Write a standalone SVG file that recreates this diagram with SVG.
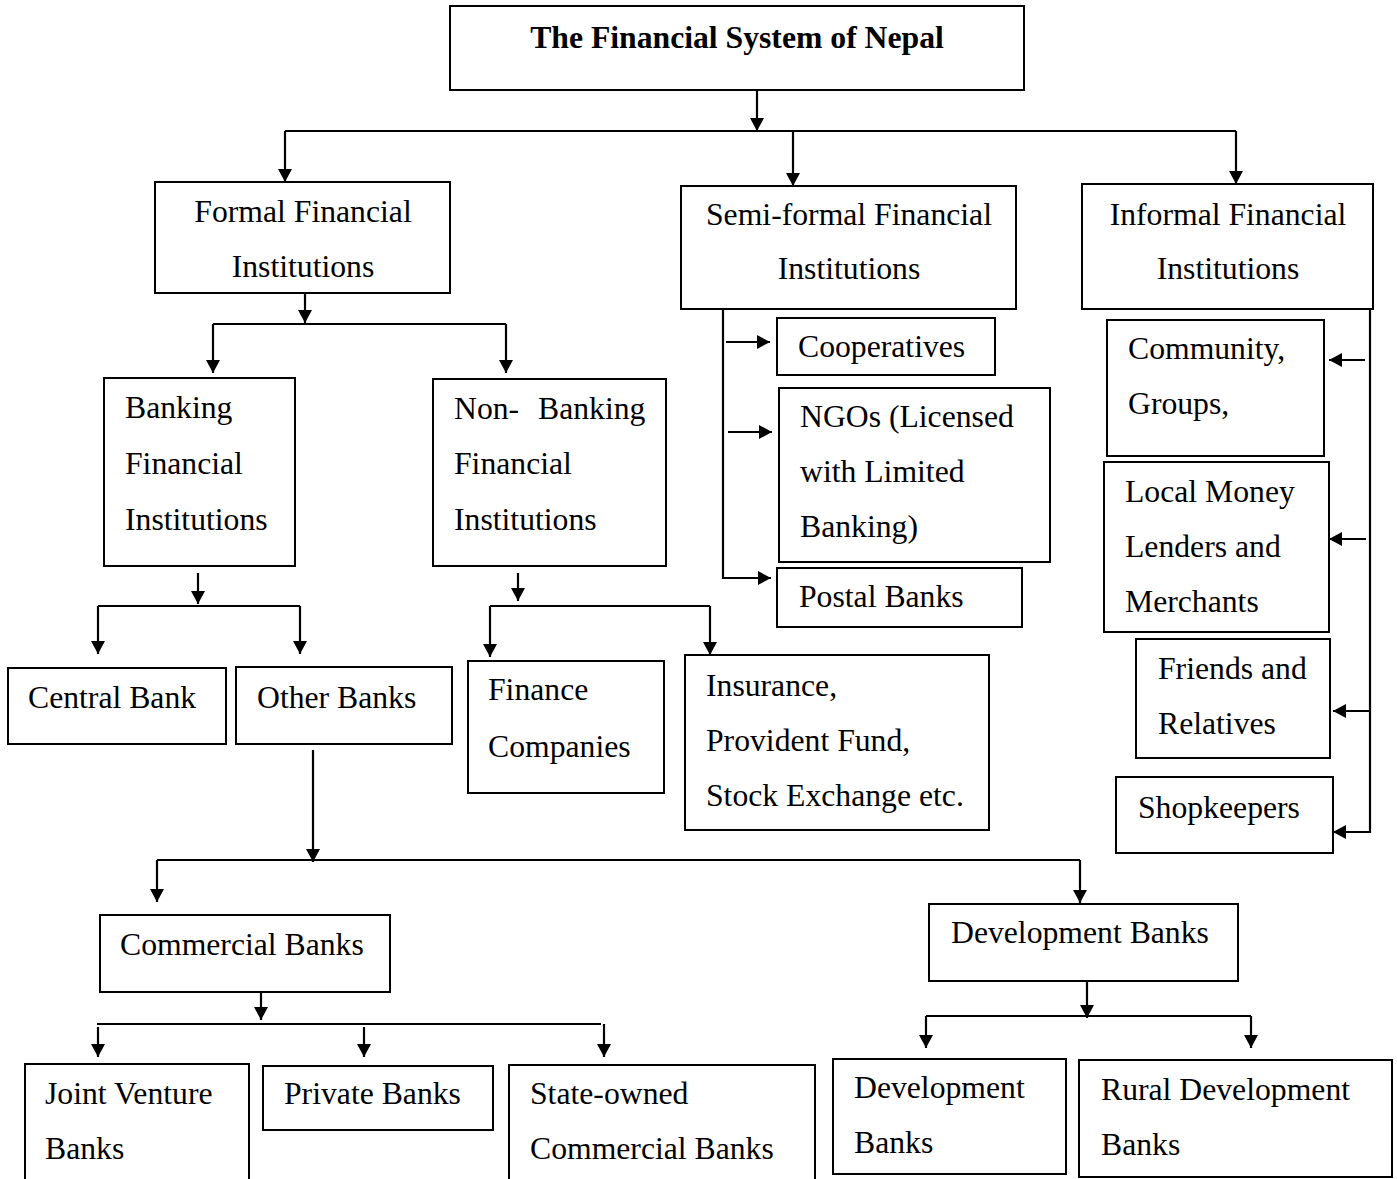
<svg xmlns="http://www.w3.org/2000/svg" width="1397" height="1179" viewBox="0 0 1397 1179">
<style>
.box{fill:#fff;stroke:#000;stroke-width:2}
.t{font-family:"Liberation Serif","Times New Roman",serif;font-size:31.7px;fill:#000}
.c{text-anchor:middle}
.b{font-weight:bold}
.ln{fill:none;stroke:#000;stroke-width:2.2}
.ar{fill:none;stroke:#000;stroke-width:2.2;marker-end:url(#ah)}
</style>
<defs>
<marker id="ah" viewBox="0 0 13 14" refX="13" refY="7" markerWidth="13" markerHeight="14" markerUnits="userSpaceOnUse" orient="auto">
<path d="M0,0 L13,7 L0,14 z" fill="#000"/>
</marker>
</defs>
<rect width="1397" height="1179" fill="#fff"/>
<g id="connectors">
<path class="ar" d="M757,90 V131"/>
<path class="ln" d="M285,131 H1236"/>
<path class="ar" d="M285,131 V182"/>
<path class="ar" d="M793,131 V186"/>
<path class="ar" d="M1236,131 V184"/>
<path class="ar" d="M305,293 V323"/>
<path class="ln" d="M213,324 H506"/>
<path class="ar" d="M213,324 V373"/>
<path class="ar" d="M506,324 V373"/>
<path class="ar" d="M198,573 V604"/>
<path class="ln" d="M98,606 H300"/>
<path class="ar" d="M98,606 V654"/>
<path class="ar" d="M300,606 V654"/>
<path class="ar" d="M518,573 V601"/>
<path class="ln" d="M490,606 H710"/>
<path class="ar" d="M490,606 V657"/>
<path class="ar" d="M710,606 V655"/>
<path class="ar" d="M313,750 V862"/>
<path class="ln" d="M157,860 H1080"/>
<path class="ar" d="M157,860 V902"/>
<path class="ar" d="M1080,860 V903"/>
<path class="ar" d="M261,992 V1020"/>
<path class="ln" d="M97,1024 H601"/>
<path class="ar" d="M98,1027 V1057"/>
<path class="ar" d="M364,1027 V1057"/>
<path class="ar" d="M604,1024 V1057"/>
<path class="ar" d="M1087,981 V1018"/>
<path class="ln" d="M926,1016 H1251"/>
<path class="ar" d="M926,1016 V1048"/>
<path class="ar" d="M1251,1016 V1048"/>
<path class="ar" d="M723,309 V578 H771"/>
<path class="ar" d="M726,342 H770"/>
<path class="ar" d="M728,432 H772"/>
<path class="ar" d="M1370,309 V832 H1333"/>
<path class="ar" d="M1365,360 H1329"/>
<path class="ar" d="M1366,539 H1329"/>
<path class="ar" d="M1370,711 H1333"/>
</g>
<g id="title"><rect class="box" x="450" y="6" width="574" height="84"/><text class="t c b" x="737" y="48">The Financial System of Nepal</text></g>
<g id="formal"><rect class="box" x="155" y="182" width="295" height="111"/><text class="t c" x="303" y="222">Formal Financial</text><text class="t c" x="303" y="277">Institutions</text></g>
<g id="semiformal"><rect class="box" x="681" y="186" width="335" height="123"/><text class="t c" x="849" y="225">Semi-formal Financial</text><text class="t c" x="849" y="279">Institutions</text></g>
<g id="informal"><rect class="box" x="1082" y="184" width="291" height="125"/><text class="t c" x="1228" y="225">Informal Financial</text><text class="t c" x="1228" y="279">Institutions</text></g>
<g id="banking"><rect class="box" x="104" y="378" width="191" height="188"/><text class="t" x="125" y="418">Banking</text><text class="t" x="125" y="474">Financial</text><text class="t" x="125" y="530">Institutions</text></g>
<g id="nonbanking"><rect class="box" x="433" y="379" width="233" height="187"/><text class="t" x="454" y="419" word-spacing="11">Non- Banking</text><text class="t" x="454" y="474">Financial</text><text class="t" x="454" y="530">Institutions</text></g>
<g id="central"><rect class="box" x="8" y="668" width="218" height="76"/><text class="t" x="28" y="708">Central Bank</text></g>
<g id="other"><rect class="box" x="236" y="667" width="216" height="77"/><text class="t" x="257" y="708">Other Banks</text></g>
<g id="finance"><rect class="box" x="468" y="661" width="196" height="132"/><text class="t" x="488" y="700">Finance</text><text class="t" x="488" y="757">Companies</text></g>
<g id="insurance"><rect class="box" x="685" y="655" width="304" height="175"/><text class="t" x="706" y="696">Insurance,</text><text class="t" x="706" y="751">Provident Fund,</text><text class="t" x="706" y="806">Stock Exchange etc.</text></g>
<g id="cooperatives"><rect class="box" x="777" y="318" width="218" height="57"/><text class="t" x="798" y="357">Cooperatives</text></g>
<g id="ngos"><rect class="box" x="779" y="388" width="271" height="174"/><text class="t" x="800" y="427">NGOs (Licensed</text><text class="t" x="800" y="482">with Limited</text><text class="t" x="800" y="537">Banking)</text></g>
<g id="postal"><rect class="box" x="777" y="568" width="245" height="59"/><text class="t" x="799" y="607">Postal Banks</text></g>
<g id="community"><rect class="box" x="1107" y="320" width="217" height="136"/><text class="t" x="1128" y="359">Community,</text><text class="t" x="1128" y="414">Groups,</text></g>
<g id="lenders"><rect class="box" x="1104" y="462" width="225" height="170"/><text class="t" x="1125" y="502">Local Money</text><text class="t" x="1125" y="557">Lenders and</text><text class="t" x="1125" y="612">Merchants</text></g>
<g id="friends"><rect class="box" x="1136" y="639" width="194" height="119"/><text class="t" x="1158" y="679">Friends and</text><text class="t" x="1158" y="734">Relatives</text></g>
<g id="shopkeepers"><rect class="box" x="1116" y="777" width="217" height="76"/><text class="t" x="1138" y="818">Shopkeepers</text></g>
<g id="commercial"><rect class="box" x="100" y="915" width="290" height="77"/><text class="t" x="120" y="955">Commercial Banks</text></g>
<g id="development"><rect class="box" x="929" y="904" width="309" height="77"/><text class="t" x="951" y="943">Development Banks</text></g>
<g id="jointventure"><rect class="box" x="25" y="1064" width="224" height="130"/><text class="t" x="45" y="1104">Joint Venture</text><text class="t" x="45" y="1159">Banks</text></g>
<g id="private"><rect class="box" x="263" y="1066" width="230" height="64"/><text class="t" x="284" y="1104">Private Banks</text></g>
<g id="stateowned"><rect class="box" x="509" y="1065" width="306" height="130"/><text class="t" x="530" y="1104">State-owned</text><text class="t" x="530" y="1159">Commercial Banks</text></g>
<g id="devbanks"><rect class="box" x="833" y="1059" width="233" height="115"/><text class="t" x="854" y="1098">Development</text><text class="t" x="854" y="1153">Banks</text></g>
<g id="rural"><rect class="box" x="1079" y="1060" width="313" height="117"/><text class="t" x="1101" y="1100">Rural Development</text><text class="t" x="1101" y="1155">Banks</text></g>
</svg>
